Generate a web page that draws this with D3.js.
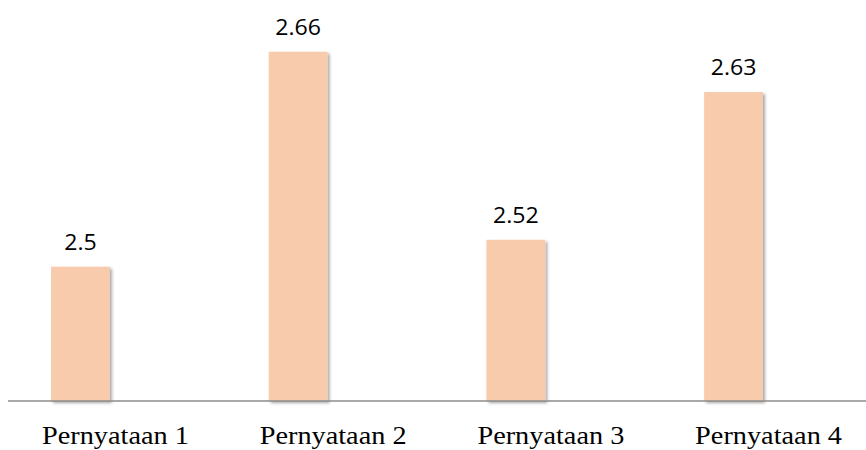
<!DOCTYPE html>
<html>
<head>
<meta charset="utf-8">
<script src="https://cdn.jsdelivr.net/npm/d3@7"></script>
<style>
  body { margin: 0; background: white; }
</style>
</head>
<body>
<script>
// data
let categories = ["Pernyataan 1", "Pernyataan 2", "Pernyataan 3", "Pernyataan 4"];
let values = [2.5, 2.66, 2.52, 2.63];
let yDomain = [2.4, 2.7];

let w = 866;
let h = 450;

let svg = d3.select("body")
  .append("svg")
    .attr("width", w)
    .attr("height", h);

// soft shadow like the office chart
let f = svg.append("defs").append("filter")
    .attr("id", "shadow")
    .attr("x", "-20%").attr("y", "-5%")
    .attr("width", "150%").attr("height", "115%");
f.append("feDropShadow")
    .attr("dx", 2).attr("dy", 2)
    .attr("stdDeviation", 1.8)
    .attr("flood-color", "#000")
    .attr("flood-opacity", 0.35);

let x = d3.scaleBand()
  .domain(categories)
  .range([-28.4, 842.4])
  .paddingInner(0.73)
  .paddingOuter(0.365);

let y = d3.scaleLinear()
  .domain(yDomain)
  .range([401, -2]);

svg.append("g")
  .selectAll("rect")
  .data(values)
  .join("rect")
    .attr("x", (d, i) => x(categories[i]))
    .attr("y", d => y(d))
    .attr("width", x.bandwidth())
    .attr("height", d => y(yDomain[0]) - y(d))
    .attr("fill", "#F8CBAD")
    .attr("filter", "url(#shadow)");

// value labels
svg.append("g")
  .selectAll("text")
  .data(values)
  .join("text")
    .attr("transform", (d, i) => "translate(" + (x(categories[i]) + x.bandwidth() / 2) + "," + (y(d) - 17) + ") scale(1.1,1)")
    .attr("text-anchor", "middle")
    .attr("font-family", "Open Sans, sans-serif")
    .attr("font-size", 21)
    .attr("fill", "#000")
    .text(d => d);

// baseline
svg.append("line")
  .attr("x1", 8)
  .attr("x2", w)
  .attr("y1", y(yDomain[0]))
  .attr("y2", y(yDomain[0]))
  .attr("stroke", "#8c8c8c")
  .attr("stroke-width", 1.5);

// category labels (shifted right like the original)
svg.append("g")
  .selectAll("text")
  .data(categories)
  .join("text")
    .attr("transform", d => "translate(" + (x(d) + x.bandwidth() / 2 + 35) + ",444) scale(1.11,1)")
    .attr("text-anchor", "middle")
    .attr("font-family", "Liberation Serif, Times New Roman, serif")
    .attr("font-size", 25.5)
    .attr("fill", "#000")
    .text(d => d);
</script>
</body>
</html>
